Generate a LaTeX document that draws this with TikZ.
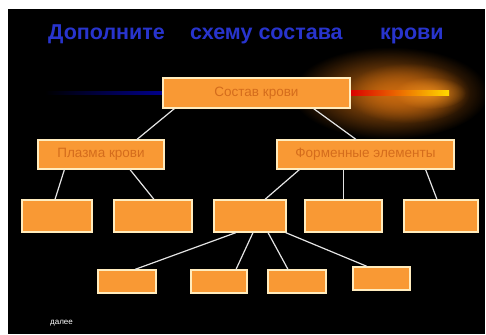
\documentclass[tikz,border=0pt]{standalone}
\usepackage{fontspec}
\setmainfont{Liberation Sans}
\usetikzlibrary{fadings}
\tikzfading[name=glowfade, inner color=transparent!0, outer color=transparent!100]
\definecolor{boxfill}{RGB}{249,153,52}
\definecolor{boxedge}{RGB}{255,236,190}
\definecolor{boxtext}{RGB}{212,108,28}
\definecolor{titleblue}{RGB}{40,52,205}
\definecolor{linkgrey}{RGB}{228,228,228}
\definecolor{glowdark}{RGB}{200,105,15}
\definecolor{glowlight}{RGB}{240,145,30}
\begin{document}
\begin{tikzpicture}[x=1pt, y=-1pt,
  box/.style={
    shape=rectangle,
    inner sep=0pt,
    text centered,
    font=\fontsize{13.5}{16}\selectfont,
    line width=1.2pt,
    text=boxtext,
    draw=boxedge,
    fill=boxfill,
  },
  title/.style={
    anchor=base west,
    inner sep=0pt,
    font=\bfseries\fontsize{21.5}{25}\selectfont,
    text=titleblue,
  }]

\useasboundingbox (0,0) rectangle (486,334);
\fill[black] (8,9) rectangle (485,334);
\begin{scope}
  \clip (8,9) rectangle (485,334);
  \fill[glowdark, path fading=glowfade] (390,93) ellipse [x radius=98, y radius=46];
  \fill[glowdark, path fading=glowfade] (408,93) ellipse [x radius=62, y radius=30];
  \fill[glowlight, path fading=glowfade, opacity=0.8] (430,93) ellipse [x radius=36, y radius=16];
\end{scope}
\shade[left color=black, right color=blue!55!black] (45,91.5) rectangle (163,94.5);
\shade[left color=red!85!black, right color=yellow!70!orange] (350,91) rectangle (449,95);

\node[title] (t1) at (48,40) {Дополните};
\node[title] (t2) at (190,40) {схему состава};
\node[title] (t3) at (380,40) {крови};

\node[box, minimum width=187pt, minimum height=30pt] (a1) at (256.5,93) {Состав крови};

\node[box, minimum width=126pt, minimum height=29pt] (b1) at (101,154.5) {Плазма крови};
\node[box, minimum width=177pt, minimum height=29pt] (b2) at (365.5,154.5) {Форменные элементы};

\node[box, minimum width=70pt, minimum height=32pt] (c1) at (57,216) {};
\node[box, minimum width=78pt, minimum height=32pt] (c2) at (153,216) {};
\node[box, minimum width=72pt, minimum height=32pt] (c3) at (250,216) {};
\node[box, minimum width=77pt, minimum height=32pt] (c4) at (343.5,216) {};
\node[box, minimum width=74pt, minimum height=32pt] (c5) at (441,216) {};

\node[box, minimum width=58pt, minimum height=23pt] (d1) at (127,281.5) {};
\node[box, minimum width=56pt, minimum height=23pt] (d2) at (219,281.5) {};
\node[box, minimum width=58pt, minimum height=23pt] (d3) at (297,281.5) {};
\node[box, minimum width=57pt, minimum height=23pt] (d4) at (381.5,278.5) {};

\node[anchor=base west, inner sep=0pt, text=white, font=\fontsize{8}{9}\selectfont] (nav) at (50,324) {далее};

\begin{scope}[line width=1.2pt, linkgrey]
  \draw ([xshift=12]a1.south west) -- ([xshift=36]b1.north);
  \draw ([xshift=-37]a1.south east) -- ([xshift=-9.5]b2.north);
  \draw ([xshift=27]b1.south west) -- ([xshift=-2]c1.north);
  \draw ([xshift=29]b1.south) -- ([xshift=1]c2.north);
  \draw ([xshift=23]b2.south west) -- ([xshift=15]c3.north);
  \draw (c4.north |- b2.south) -- (c4.north);
  \draw ([xshift=-29]b2.south east) -- ([xshift=-4]c5.north);
  \draw ([xshift=-14]c3.south) -- ([xshift=8]d1.north);
  \draw ([xshift=3]c3.south) -- ([xshift=17]d2.north);
  \draw ([xshift=18]c3.south) -- ([xshift=-9]d3.north);
  \draw ([xshift=-1]c3.south east) -- ([xshift=-14.5]d4.north);
\end{scope}

\end{tikzpicture}
\end{document}
